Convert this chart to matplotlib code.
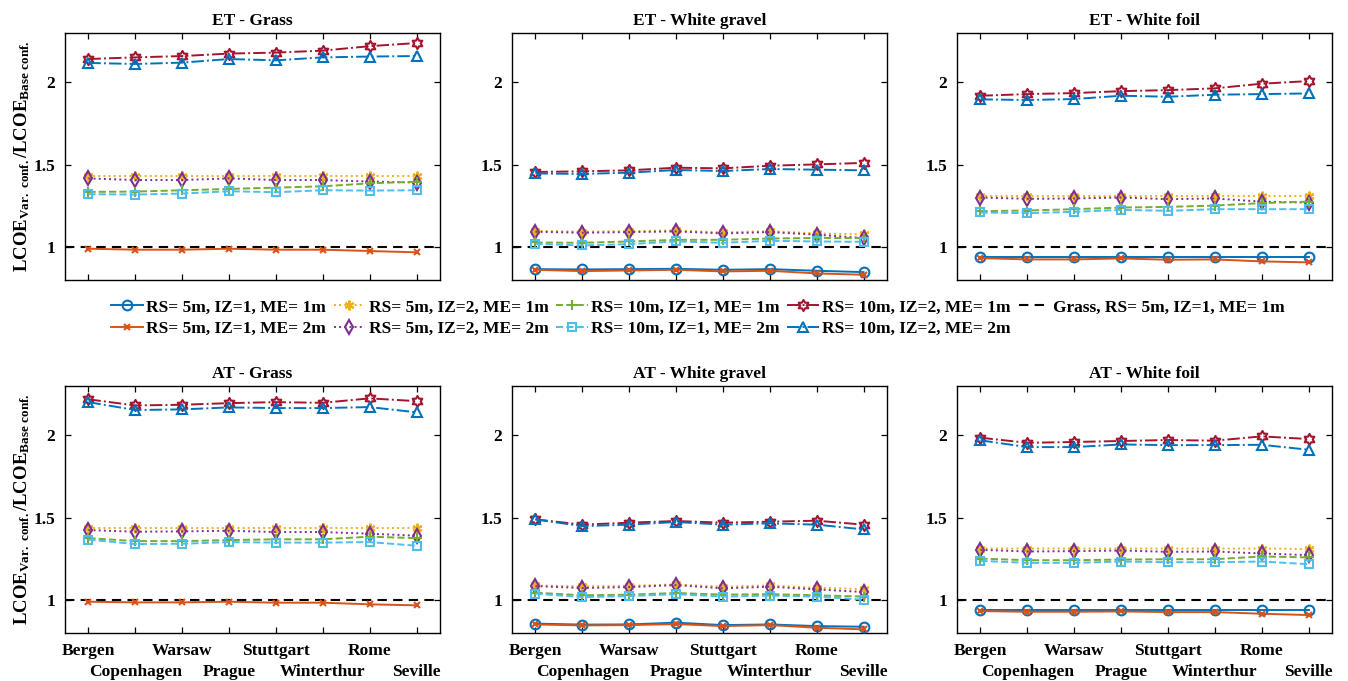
import numpy as np
import matplotlib
matplotlib.use('Agg')
import matplotlib.pyplot as plt
from matplotlib.path import Path
from matplotlib.lines import Line2D

plt.rcParams['font.family'] = ['Liberation Serif', 'DejaVu Serif']
plt.rcParams['font.weight'] = 'bold'
plt.rcParams['mathtext.fontset'] = 'custom'
plt.rcParams['mathtext.rm'] = 'Liberation Serif:bold'
plt.rcParams['mathtext.bf'] = 'Liberation Serif:bold'
plt.rcParams['mathtext.it'] = 'Liberation Serif:bold'

cities = ['Bergen', 'Copenhagen', 'Warsaw', 'Prague', 'Stuttgart', 'Winterthur', 'Rome', 'Seville']
titles = ['ET - Grass', 'ET - White gravel', 'ET - White foil',
          'AT - Grass', 'AT - White gravel', 'AT - White foil']
series_labels = ['RS= 5m, IZ=1, ME= 1m', 'RS= 5m, IZ=1, ME= 2m',
                 'RS= 5m, IZ=2, ME= 1m', 'RS= 5m, IZ=2, ME= 2m',
                 'RS= 10m, IZ=1, ME= 1m', 'RS= 10m, IZ=1, ME= 2m',
                 'RS= 10m, IZ=2, ME= 1m', 'RS= 10m, IZ=2, ME= 2m']
base_label = 'Grass, RS= 5m, IZ=1, ME= 1m'
base_value = 1.0
yticks = [1, 1.5, 2]
ytick_labels = ['1', '1.5', '2']

# series order: RS5 IZ1 ME1, RS5 IZ1 ME2, RS5 IZ2 ME1, RS5 IZ2 ME2,
#               RS10 IZ1 ME1, RS10 IZ1 ME2, RS10 IZ2 ME1, RS10 IZ2 ME2
et_grass = [
    None,
    [0.990, 0.984, 0.984, 0.990, 0.984, 0.984, 0.976, 0.968],
    [1.431, 1.431, 1.431, 1.431, 1.431, 1.431, 1.431, 1.431],
    [1.417, 1.407, 1.407, 1.417, 1.407, 1.407, 1.398, 1.392],
    [1.335, 1.337, 1.345, 1.353, 1.361, 1.369, 1.387, 1.397],
    [1.321, 1.319, 1.325, 1.339, 1.333, 1.345, 1.343, 1.345],
    [2.142, 2.152, 2.160, 2.175, 2.181, 2.193, 2.220, 2.239],
    [2.118, 2.112, 2.120, 2.142, 2.134, 2.152, 2.157, 2.160],
]
et_gravel = [
    [0.866, 0.864, 0.866, 0.868, 0.862, 0.866, 0.856, 0.848],
    [0.862, 0.854, 0.858, 0.862, 0.852, 0.856, 0.840, 0.832],
    [1.099, 1.093, 1.097, 1.101, 1.089, 1.097, 1.083, 1.077],
    [1.093, 1.087, 1.091, 1.095, 1.083, 1.091, 1.075, 1.055],
    [1.028, 1.026, 1.034, 1.044, 1.044, 1.052, 1.055, 1.055],
    [1.020, 1.010, 1.018, 1.034, 1.026, 1.038, 1.034, 1.032],
    [1.456, 1.460, 1.466, 1.482, 1.478, 1.494, 1.502, 1.511],
    [1.447, 1.444, 1.452, 1.468, 1.462, 1.474, 1.470, 1.466],
]
et_foil = [
    [0.937, 0.937, 0.937, 0.937, 0.937, 0.937, 0.937, 0.937],
    [0.933, 0.925, 0.925, 0.931, 0.923, 0.925, 0.913, 0.907],
    [1.313, 1.313, 1.313, 1.313, 1.313, 1.313, 1.313, 1.313],
    [1.301, 1.293, 1.295, 1.301, 1.291, 1.295, 1.276, 1.270],
    [1.218, 1.222, 1.230, 1.240, 1.244, 1.252, 1.267, 1.276],
    [1.210, 1.206, 1.214, 1.226, 1.220, 1.230, 1.230, 1.230],
    [1.919, 1.929, 1.935, 1.947, 1.953, 1.964, 1.992, 2.008],
    [1.897, 1.893, 1.899, 1.919, 1.913, 1.925, 1.929, 1.933],
]
at_grass = [
    None,
    [0.990, 0.986, 0.986, 0.990, 0.984, 0.984, 0.974, 0.968],
    [1.435, 1.435, 1.435, 1.435, 1.435, 1.435, 1.435, 1.435],
    [1.425, 1.415, 1.417, 1.421, 1.413, 1.413, 1.403, 1.391],
    [1.376, 1.358, 1.358, 1.364, 1.369, 1.369, 1.385, 1.376],
    [1.367, 1.340, 1.342, 1.352, 1.349, 1.349, 1.352, 1.330],
    [2.219, 2.182, 2.186, 2.196, 2.202, 2.198, 2.225, 2.208],
    [2.202, 2.154, 2.158, 2.170, 2.166, 2.166, 2.172, 2.140],
]
at_gravel = [
    [0.857, 0.851, 0.852, 0.863, 0.848, 0.852, 0.842, 0.838],
    [0.852, 0.846, 0.848, 0.854, 0.842, 0.848, 0.832, 0.822],
    [1.089, 1.083, 1.087, 1.095, 1.081, 1.089, 1.075, 1.067],
    [1.085, 1.073, 1.079, 1.091, 1.071, 1.081, 1.065, 1.049],
    [1.045, 1.029, 1.033, 1.043, 1.033, 1.036, 1.029, 1.021],
    [1.039, 1.018, 1.024, 1.036, 1.021, 1.027, 1.021, 1.002],
    [1.490, 1.458, 1.470, 1.480, 1.470, 1.476, 1.482, 1.458],
    [1.490, 1.449, 1.458, 1.474, 1.458, 1.466, 1.458, 1.429],
]
at_foil = [
    [0.939, 0.939, 0.939, 0.939, 0.939, 0.939, 0.939, 0.939],
    [0.933, 0.929, 0.929, 0.931, 0.927, 0.927, 0.917, 0.909],
    [1.313, 1.313, 1.313, 1.313, 1.313, 1.313, 1.313, 1.310],
    [1.305, 1.295, 1.297, 1.301, 1.293, 1.295, 1.283, 1.273],
    [1.252, 1.242, 1.242, 1.246, 1.248, 1.248, 1.265, 1.259],
    [1.238, 1.226, 1.226, 1.234, 1.230, 1.230, 1.234, 1.218],
    [1.986, 1.955, 1.960, 1.966, 1.972, 1.968, 1.994, 1.978],
    [1.970, 1.929, 1.929, 1.945, 1.941, 1.941, 1.943, 1.913],
]
panels = [et_grass, et_gravel, et_foil, at_grass, at_gravel, at_foil]

# hexagram marker
ang = np.deg2rad(90 + np.arange(12) * 30)
rad = np.where(np.arange(12) % 2 == 0, 1.0, 1.0 / np.sqrt(3))
hex_verts = np.column_stack([rad * np.cos(ang), rad * np.sin(ang)])
hex_verts = np.vstack([hex_verts, hex_verts[:1]])
hexagram = Path(hex_verts, [Path.MOVETO] + [Path.LINETO] * 11 + [Path.CLOSEPOLY])

colors = ['#0072BD', '#D95319', '#EDB120', '#7E2F8E',
          '#77AC30', '#4DBEEE', '#A2142F', '#0072BD']
markers = ['o', 'x', (6, 2, 0), 'd', '+', 's', hexagram, '^']
msizes = [7, 5, 7, 7, 7, 6, 8, 7]
lstyles = ['-', '-', ':', ':', '--', '--', '-.', '-.']


def style_kwargs(k):
    mk = markers[k]
    filled = mk in ('x', '+') or isinstance(mk, tuple)
    return dict(color=colors[k], linestyle=lstyles[k], linewidth=1.4,
                marker=mk, markersize=msizes[k], markeredgewidth=1.5,
                markerfacecolor=colors[k] if filled else 'none',
                markeredgecolor=colors[k])


fig = plt.figure(figsize=(13.48, 6.81), dpi=100)
lefts = [65, 512, 957]
tops = [33, 386]
W, H = 375, 247
axes = []
for r in range(2):
    for c in range(3):
        ax = fig.add_axes([lefts[c] / 1348, 1 - (tops[r] + H) / 681, W / 1348, H / 681])
        axes.append(ax)

x = np.arange(1, len(cities) + 1)
for i, ax in enumerate(axes):
    data = panels[i]
    for k in range(8):
        if data[k] is None:
            continue
        ax.plot(x, data[k], label=series_labels[k], zorder=3, **style_kwargs(k))
    ax.axhline(base_value, color='black', linestyle=(0, (4.5, 3)), linewidth=1.5, zorder=2)
    ax.set_xlim(0.5, 8.5)
    ax.set_ylim(0.8, 2.3)
    ax.set_yticks(yticks)
    ax.set_yticklabels(ytick_labels)
    ax.set_xticks(x[0::2])
    ax.set_xticks(x[1::2], minor=True)
    if i >= 3:
        ax.set_xticklabels(cities[0::2])
        ax.set_xticklabels(cities[1::2], minor=True)
    else:
        ax.set_xticklabels([])
        ax.set_xticklabels([], minor=True)
    ax.tick_params(which='both', direction='in', top=True, right=True, length=4, width=0.9,
                   labelsize=12.5)
    ax.tick_params(axis='y', pad=7)
    ax.tick_params(axis='x', which='major', pad=7)
    ax.tick_params(axis='x', which='minor', pad=22.5)
    for lbl in (ax.get_xticklabels() + ax.get_xticklabels(minor=True) + ax.get_yticklabels()):
        lbl.set_fontweight('bold')
    for sp in ax.spines.values():
        sp.set_linewidth(1.0)
    ax.set_title(titles[i], fontsize=12.5, fontweight='bold', pad=6)
    if i % 3 == 0:
        ax.set_ylabel(r'$\mathbf{LCOE_{Var.\ conf.}/LCOE_{Base\ conf.}}$', fontsize=13.5, labelpad=1)

# legend handles
leg_handles = []
for k in range(8):
    leg_handles.append(Line2D([], [], label=series_labels[k], **style_kwargs(k)))
leg_handles.append(Line2D([], [], color='black', linestyle=(0, (4.5, 3)), linewidth=1.5,
                          label=base_label))
fig.legend(handles=leg_handles, loc='center', bbox_to_anchor=(0.518, 0.533), ncol=5,
           frameon=False, handlelength=1.8, handletextpad=0.2,
           columnspacing=0.45, labelspacing=0.3, borderaxespad=0,
           prop={'weight': 'bold', 'size': 12.5})

fig.savefig('out.png', dpi=100)
